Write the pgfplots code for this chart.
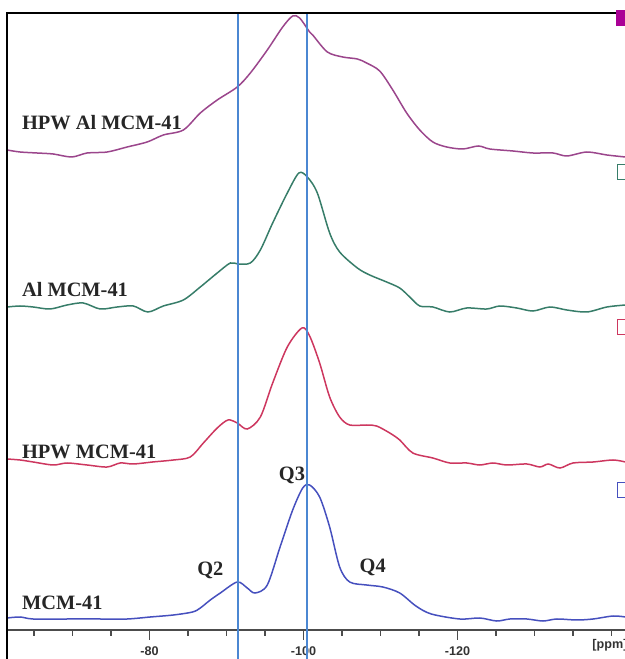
\documentclass[border=0pt]{standalone}
\usepackage{fontspec}
\setmainfont{Liberation Serif}
\newfontfamily\ticksans{Liberation Sans}
\usepackage{pgfplots}
\pgfplotsset{compat=1.18}

\definecolor{cPurple}{RGB}{155,70,140}
\definecolor{cGreen}{RGB}{55,125,105}
\definecolor{cRed}{RGB}{205,55,95}
\definecolor{cBlue}{RGB}{70,80,190}
\definecolor{cLine}{RGB}{75,135,210}
\definecolor{cMag}{RGB}{170,0,150}

\begin{document}
\begin{tikzpicture}
\begin{axis}[
  scale only axis, width=309pt, height=308.5pt,
  x dir=reverse, xmin=-141.75, xmax=-61.5, ymin=0, ymax=617,
  axis x line*=bottom, axis y line=none,
  xtick={-120,-100,-80}, xticklabels={-120,-100,-80},
  minor xtick={-140,-135,...,-65},
  ytick=\empty,
  tick align=outside, major tick length=5pt, minor tick length=3pt,
  x axis line style={draw=black!70, line width=0.8pt},
  every tick/.style={black!70, line width=0.6pt},
  xticklabel style={font=\ticksans\bfseries\fontsize{6.3}{7}\selectfont, text=black!80},
  clip=false,
  every axis plot/.append style={line width=0.75pt, mark=none},
]
% HPW Al MCM-41
\addplot[cPurple, smooth] coordinates {
(-61.5,480) (-63.2,478) (-65.4,477) (-67.5,476) (-69.9,473) (-71.9,477)
(-74.5,478) (-77.1,483) (-79.7,488) (-81.8,495) (-84.4,500) (-86.6,517)
(-88.8,530) (-91.4,543) (-93.1,557) (-95.3,580) (-97.3,603) (-98.6,614)
(-99.5,612) (-100.8,598) (-101.2,595) (-103.1,578) (-105.1,573) (-107.0,571)
(-108.2,567) (-109.9,559) (-111.6,540) (-113.4,517) (-115.1,500) (-116.8,488)
(-118.6,483) (-120.7,481) (-122.7,484) (-124.2,481) (-127.2,479) (-129.8,477)
(-132.4,477) (-134.2,474) (-136.8,478) (-139.4,475) (-141.8,473)};
% Al MCM-41
\addplot[cGreen, smooth] coordinates {
(-61.5,323) (-63.2,324) (-64.9,323) (-67.1,321) (-69.3,325) (-71.4,327)
(-73.6,321) (-75.8,323) (-77.9,324) (-79.8,318) (-81.8,324) (-84.4,330)
(-86.6,343) (-88.8,357) (-90.5,367) (-91.5,366) (-93.1,367) (-94.4,380)
(-96.0,407) (-97.9,437) (-99.4,457) (-100.5,453)
(-101.8,437) (-103.4,397) (-104.7,378) (-107.0,362) (-108.6,355)
(-110.8,348) (-112.5,342) (-113.8,333) (-115.1,324) (-116.8,323) (-119.0,318)
(-121.2,322) (-123.8,321) (-125.5,324) (-127.7,322) (-129.8,319) (-132.0,323)
(-134.2,320) (-136.8,318) (-139.4,323) (-141.8,325)};
% HPW MCM-41
\addplot[cRed, smooth] coordinates {
(-61.5,171) (-63.2,170) (-64.9,168) (-67.5,165) (-69.3,167) (-71.9,165)
(-74.5,163) (-76.2,167) (-77.9,166) (-80.4,168) (-83.1,170) (-85.3,173)
(-87.0,187) (-88.8,202) (-90.2,210) (-91.4,207) (-92.7,201) (-94.4,213)
(-96.0,247) (-97.9,283) (-99.8,302) (-100.8,294) (-102.1,267) (-103.4,233)
(-104.7,213) (-106.0,205) (-108.2,205) (-109.5,204) (-111.2,197) (-112.5,190)
(-114.2,177) (-116.8,172) (-119.0,167) (-121.2,167) (-122.9,165) (-124.6,167)
(-126.4,165) (-129.0,166) (-130.7,163) (-131.8,166) (-133.3,162) (-135.0,167)
(-137.6,168) (-140.2,170) (-141.8,168)};
% MCM-41
\addplot[cBlue, smooth] coordinates {
(-61.5,12) (-63.2,13) (-64.9,11) (-69.3,11) (-73.6,11) (-77.1,11)
(-80.1,13) (-83.1,15) (-85.6,18) (-86.6,22) (-87.9,30) (-89.2,37)
(-91.4,48) (-92.7,42) (-93.7,37) (-95.3,45) (-97.0,84) (-98.6,120)
(-99.9,142) (-100.8,145) (-102.1,133) (-103.4,103) (-104.7,63) (-106.0,48)
(-108.2,45) (-110.3,43) (-112.5,37) (-114.6,24) (-116.6,16)
(-120.3,11) (-122.9,12) (-125.1,9) (-126.8,11) (-129.0,11) (-131.1,9)
(-132.9,11) (-135.5,10) (-137.6,11) (-140.2,14) (-141.8,13)};
% reference lines
\addplot[cLine, line width=1pt] coordinates {(-91.5,-58) (-91.5,617)};
\addplot[cLine, line width=1pt] coordinates {(-100.5,-58) (-100.5,617)};
% legend squares at the right edge
\addplot[only marks, mark=square*, mark size=3.75pt, draw=cMag, fill=cMag] coordinates {(-141.7,612)};
\addplot[only marks, mark=square, mark size=3.75pt, draw=cGreen, line width=0.6pt] coordinates {(-141.7,458)};
\addplot[only marks, mark=square, mark size=3.75pt, draw=cRed, line width=0.6pt] coordinates {(-141.7,303)};
\addplot[only marks, mark=square, mark size=3.75pt, draw=cBlue, line width=0.6pt] coordinates {(-141.7,140)};
% frame
\draw[black, line width=0.8pt] (rel axis cs:1,1) -- (rel axis cs:0,1) -- ([yshift=-15pt]rel axis cs:0,0);
% labels
\begin{scope}[every node/.style={inner sep=0pt, font=\bfseries\fontsize{10.2}{12}\selectfont, text=black!85}]
\node[anchor=west] at (axis cs:-63.4,507) {HPW Al MCM-41};
\node[anchor=west] at (axis cs:-63.4,340) {Al MCM-41};
\node[anchor=west] at (axis cs:-63.4,178) {HPW MCM-41};
\node[anchor=west] at (axis cs:-63.4,27) {MCM-41};
\node at (axis cs:-87.9,60) {Q2};
\node at (axis cs:-98.5,155) {Q3};
\node at (axis cs:-109.0,63) {Q4};
\end{scope}
\node[font=\ticksans\bfseries\fontsize{6.3}{7}\selectfont, text=black!80, inner sep=0pt] at ([yshift=-7.5pt]axis cs:-139.8,0) {[ppm]};
\coordinate (bl) at (rel axis cs:0,0);
\coordinate (tr) at (rel axis cs:1,1);
\end{axis}
\pgfresetboundingbox
\path[use as bounding box] ([xshift=-3.5pt,yshift=-14.5pt]bl) rectangle ([yshift=6.5pt]tr);
\end{tikzpicture}
\end{document}
